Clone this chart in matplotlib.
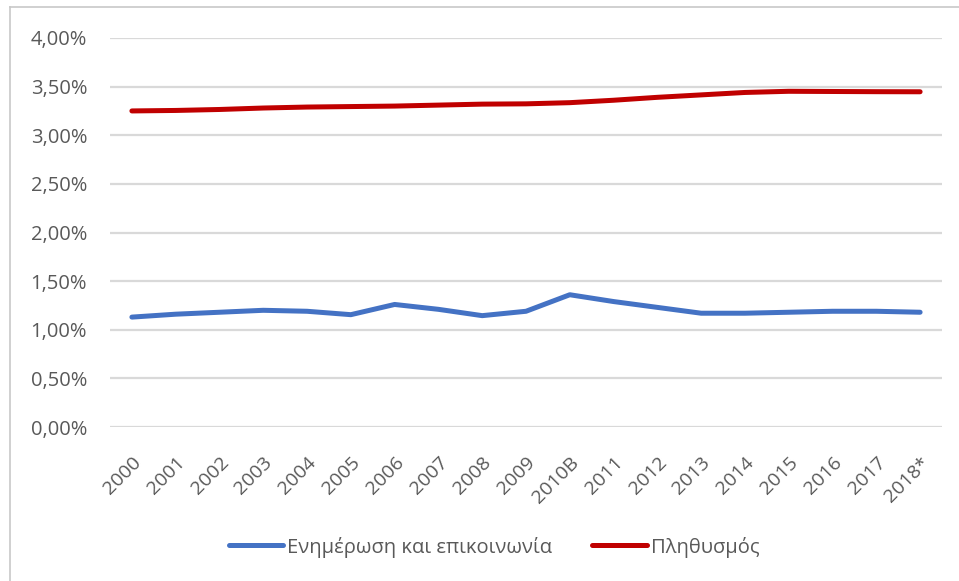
import matplotlib.pyplot as plt
from matplotlib.lines import Line2D
from matplotlib.transforms import ScaledTranslation

# data (percent)
years = ['2000', '2001', '2002', '2003', '2004', '2005', '2006', '2007', '2008', '2009',
         '2010B', '2011', '2012', '2013', '2014', '2015', '2016', '2017', '2018*']
info_comm = [1.13, 1.16, 1.18, 1.20, 1.19, 1.155, 1.26, 1.21, 1.145, 1.19,
             1.36, 1.29, 1.23, 1.17, 1.17, 1.18, 1.19, 1.19, 1.18]
population = [3.25, 3.255, 3.265, 3.28, 3.29, 3.295, 3.30, 3.31, 3.32, 3.323,
              3.335, 3.36, 3.39, 3.415, 3.44, 3.452, 3.45, 3.448, 3.447]
y_ticks = [0, 0.5, 1.0, 1.5, 2.0, 2.5, 3.0, 3.5, 4.0]
y_labels = ['0,00%', '0,50%', '1,00%', '1,50%', '2,00%', '2,50%', '3,00%', '3,50%', '4,00%']

plt.rcParams['font.family'] = ['Open Sans', 'DejaVu Sans']
grey_text = '#595959'

fig = plt.figure(figsize=(9.59, 5.81), dpi=100)
ax = fig.add_axes([110 / 959, 1 - 427 / 581, 832 / 959, 389 / 581])

x = list(range(len(years)))
ax.plot(x, info_comm, color='#4472C4', lw=3.6, solid_capstyle='round',
        solid_joinstyle='round', label='Ενημέρωση και επικοινωνία')
ax.plot(x, population, color='#C00000', lw=3.6, solid_capstyle='round',
        solid_joinstyle='round', label='Πληθυσμός')

ax.set_xlim(-0.5, len(years) - 0.5)
ax.set_ylim(0, 4)
ax.set_yticks(y_ticks, y_labels)
ax.set_xticks(x, years, rotation=45, ha='right', va='top', rotation_mode='anchor')
for lab in ax.get_xticklabels():
    lab.set_transform(lab.get_transform() + ScaledTranslation(5 / 100, 0, fig.dpi_scale_trans))

ax.grid(axis='y', color='#d9d9d9', lw=1.6)
ax.set_axisbelow(True)
for s in ax.spines.values():
    s.set_visible(False)
ax.tick_params(length=0, colors=grey_text, labelsize=14.5)
ax.tick_params(axis='x', labelsize=14, pad=19)
ax.tick_params(axis='y', pad=16.5)

leg = fig.legend(loc='center', bbox_to_anchor=(494 / 959, 1 - 547 / 581), ncol=2,
                 frameon=False, fontsize=14.5, handlelength=2.7, handletextpad=0.2,
                 columnspacing=2.0, labelcolor=grey_text)

# chart frame (left and top edges visible in the crop)
fig.add_artist(Line2D([10 / 959, 10 / 959], [0, 1 - 7 / 581], color='#c8c8c8', lw=1.2))
fig.add_artist(Line2D([10 / 959, 1], [1 - 7 / 581, 1 - 7 / 581], color='#c8c8c8', lw=1.2))

fig.savefig('out.png', dpi=100)
